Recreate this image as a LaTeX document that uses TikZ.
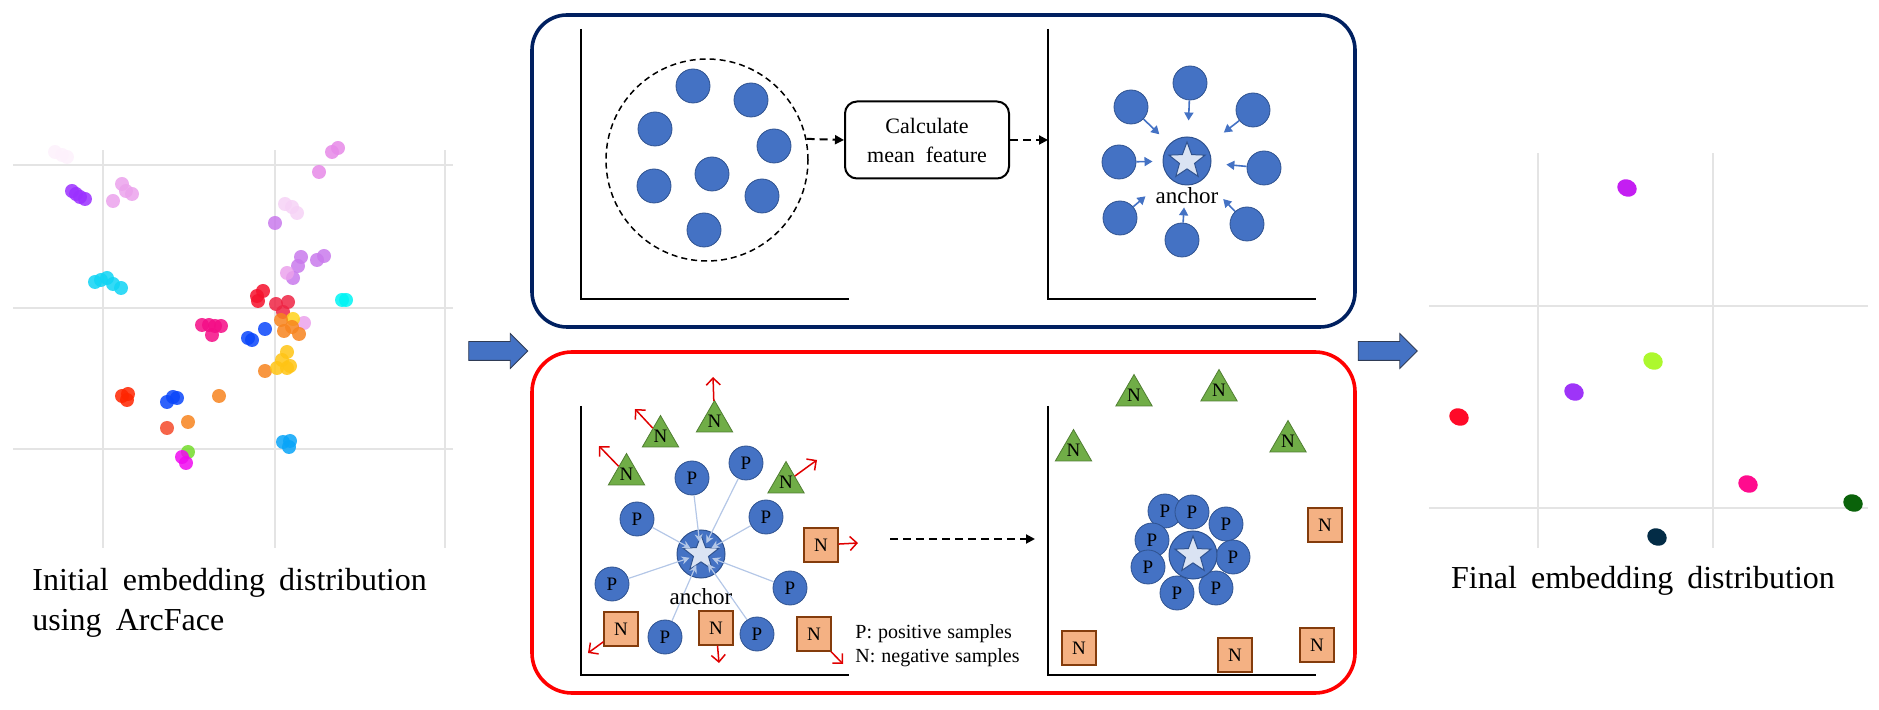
\documentclass[tikz,border=0pt]{standalone}
\usepackage{fontspec}
\setmainfont{Liberation Serif}
\usepackage{tikz}
\usetikzlibrary{positioning,arrows.meta,shapes.geometric,shapes.arrows,calc}
\usepackage{xcolor}
\definecolor{officeblue}{HTML}{4472C4}
\definecolor{dotrim}{HTML}{2F528F}
\definecolor{starwhite}{HTML}{DAE3F3}
\definecolor{framenavy}{HTML}{002060}
\definecolor{framered}{HTML}{FF0000}
\definecolor{leafgreen}{HTML}{70AD47}
\definecolor{leafrim}{HTML}{507E32}
\definecolor{peach}{HTML}{F4B183}
\definecolor{peachrim}{HTML}{843C0C}
\definecolor{pushred}{HTML}{E00000}
\definecolor{linkblue}{HTML}{B4C7E7}
\definecolor{gridgray}{HTML}{E4E4E4}
\definecolor{arrowrim}{HTML}{2F3B55}
\definecolor{embfaint}{HTML}{FDF1FC}
\definecolor{embpurple}{HTML}{9B30FF}
\definecolor{embplum}{HTML}{EBA2EC}
\definecolor{embviolet}{HTML}{E68AE8}
\definecolor{emblilac}{HTML}{F6D2F6}
\definecolor{emborchid}{HTML}{C97AEC}
\definecolor{embturq}{HTML}{10D4F4}
\definecolor{embred}{HTML}{F5102C}
\definecolor{embcrimson}{HTML}{EE2444}
\definecolor{embaqua}{HTML}{00F4F4}
\definecolor{emborange}{HTML}{F7841F}
\definecolor{embyellow}{HTML}{FFD21A}
\definecolor{embrose}{HTML}{F40C86}
\definecolor{embblue}{HTML}{0A46FA}
\definecolor{embgold}{HTML}{FFC414}
\definecolor{embscarlet}{HTML}{FF2400}
\definecolor{embtomato}{HTML}{F44A2A}
\definecolor{emblime}{HTML}{74DC2C}
\definecolor{embmagenta}{HTML}{F00AF0}
\definecolor{embsky}{HTML}{08A4F8}
\definecolor{finviolet}{HTML}{C41EF2}
\definecolor{finlime}{HTML}{ADF82E}
\definecolor{finpurple}{HTML}{9E34F8}
\definecolor{finred}{HTML}{FF0A28}
\definecolor{finpink}{HTML}{FF0C8E}
\definecolor{fingreen}{HTML}{0A620A}
\definecolor{finnavy}{HTML}{032C46}
\newcommand{\wordgap}[1]{\spaceskip=#1\relax}

\begin{document}
\begin{tikzpicture}[
    x=0.5pt, y=-0.5pt,
    panelFrame/.style={rectangle, line width=1.8pt, inner sep=0pt},
    axisLine/.style={draw=black, line width=1pt},
    gridLine/.style={draw=gridgray, line width=0.6pt},
    sampleDot/.style={circle, fill=officeblue, draw=dotrim, line width=0.4pt, minimum size=17pt, inner sep=0pt, font=\fontsize{9.5}{10}\selectfont},
    anchorDot/.style={circle, fill=officeblue, draw=dotrim, line width=0.5pt, minimum size=24pt, inner sep=0pt},
    anchorStar/.style={star, star points=5, star point ratio=2.4, fill=starwhite, draw=dotrim, line width=0.5pt, minimum size=19pt, inner sep=0pt},
    negTri/.style={regular polygon, regular polygon sides=3, fill=leafgreen, draw=leafrim, line width=0.4pt, minimum size=21pt, inner sep=0pt, font=\fontsize{9.5}{10}\selectfont},
    negSq/.style={rectangle, fill=peach, draw=peachrim, line width=0.6pt, minimum size=17pt, inner sep=0pt, font=\fontsize{9.5}{10}\selectfont},
    calcBox/.style={rectangle, rounded corners=6pt, draw=black, line width=1pt, minimum width=82pt, minimum height=38.5pt, align=center, font=\fontsize{11}{14.5}\selectfont\wordgap{0.5em}},
    flowArrow/.style={-{Triangle[length=4.5pt, width=4.5pt]}, line width=1pt, dash pattern=on 4pt off 2.5pt},
    pullArrow/.style={-{Triangle[length=4pt, width=4.5pt]}, draw=officeblue, line width=0.8pt},
    pushArrow/.style={-{Straight Barb[length=3.5pt, width=7pt]}, draw=pushred, line width=0.75pt},
    linkArrow/.style={-{Stealth[length=4pt, width=4pt]}, draw=linkblue, line width=0.6pt},
    blockArrow/.style={single arrow, fill=officeblue, draw=arrowrim, line width=0.4pt, inner xsep=0pt, inner ysep=4.5pt, minimum height=29.5pt, single arrow head extend=4pt},
    caption/.style={font=\fontsize{16}{20}\selectfont\wordgap{0.44em}, inner sep=0pt, align=left},
    anchorLabel/.style={font=\fontsize{11.5}{12}\selectfont, inner sep=1pt}
]
    \useasboundingbox (0, 0) rectangle (1879, 710);

    % Initial embedding (scatter with grid)
    \foreach \gy in {165, 308, 449}
        \draw[gridLine] (13, \gy) -- (453, \gy);
    \foreach \gx in {103, 275, 445}
        \draw[gridLine] (\gx, 150) -- (\gx, 548);
    \foreach \col/\pts in {
        embfaint/{(55,152),(62,155),(67,157)},
        embpurple/{(72,191),(76,194),(80,197),(85,199)},
        embplum/{(122,184),(126,191),(132,194),(113,201)},
        embviolet/{(332,152),(338,148),(319,172)},
        emblilac/{(285,204),(292,207),(297,213)},
        emborchid/{(275,223),(301,257),(298,266),(293,278),(317,260),(324,256)},
        embplum/{(287,273),(304,323)},
        embturq/{(95,282),(101,280),(107,278),(113,284),(121,288)},
        embred/{(257,296),(263,291),(258,301)},
        embcrimson/{(276,304),(288,302),(283,312)},
        embaqua/{(342,300),(346,300)},
        embyellow/{(293,319)},
        emborange/{(281,320),(284,331),(292,327),(299,334),(265,371),(219,396),(188,422)},
        embrose/{(202,325),(209,325),(215,326),(221,326),(212,335)},
        embblue/{(248,338),(252,340),(265,329),(167,402),(173,397),(177,398)},
        embgold/{(287,352),(282,360),(277,368),(287,368),(290,366)},
        embscarlet/{(122,396),(128,394),(127,400)},
        embtomato/{(167,428)},
        emblime/{(188,452)},
        embmagenta/{(182,457),(186,463)},
        embsky/{(283,442),(290,441),(289,447)}}
        \foreach \p in \pts
            \fill[\col, opacity=0.85] \p circle[radius=7];

    \node[caption, anchor=north west] (capInit) at (32, 568) {Initial embedding distribution\\using ArcFace};

    % Block arrows
    \node[blockArrow] (arrowIn) at (493.5, 351) {};
    \node[blockArrow] (arrowOut) at (1383, 351) {};

    % Panel 1: mean feature as anchor
    \node[panelFrame, rounded corners=17.5pt, draw=framenavy, minimum width=411.5pt, minimum height=156pt] (meanPanel) at (943.5, 171) {};
    \coordinate (originA) at (581, 299);
    \coordinate (originB) at (1048, 299);
    \draw[axisLine] (originA) ++(0, -270) |- ++(268, 270);
    \draw[axisLine] (originB) ++(0, -270) |- ++(268, 270);

    \node[circle, draw, line width=0.75pt, dash pattern=on 3pt off 2pt, minimum size=101pt, inner sep=0pt] (cloud) at (707, 160) {};
    \foreach \i/\px/\py in {1/693/86, 2/751/100, 3/655/129, 4/774/146, 5/712/174, 6/654/186, 7/762/196, 8/704/230}
        \node[sampleDot] (cloudDot\i) at (\px, \py) {};

    \node[calcBox] (calc) at (927, 140) {Calculate\\mean feature};
    \draw[flowArrow] (cloud.12) -- (calc.west);
    \draw[flowArrow] (calc.east) -- (calc.east -| originB);

    \node[anchorDot] (ancA) at (1187, 161) {};
    \node[anchorStar] (starA) at (ancA) {};
    \node[anchorLabel, below=0pt of ancA] (labelA) {anchor};
    \foreach \n/\px/\py/\gap in {a/1190/83/8, b/1131/107/7, c/1253/110/11, d/1119/162/5, e/1264/168/7.5, f/1120/218/15, g/1182/240/11, h/1247/224/14} {
        \node[sampleDot] (outer\n) at (\px, \py) {};
        \draw[pullArrow, shorten >=\gap pt] (outer\n) -- (ancA);
    }

    % Panel 2: pull positives, push negatives
    \node[panelFrame, rounded corners=20pt, draw=framered, minimum width=411.5pt, minimum height=170.5pt] (pushPanel) at (943.5, 522.5) {};
    \coordinate (originC) at (581, 675);
    \coordinate (originD) at (1048, 675);
    \draw[axisLine] (originC) ++(0, -269) |- ++(268, 269);
    \draw[axisLine] (originD) ++(0, -269) |- ++(268, 269);

    \node[anchorDot] (ancB) at (701, 554) {};
    \node[anchorStar] (starB) at (ancB) {};
    \foreach \i/\px/\py in {1/692/478, 2/746/463, 3/637/519, 4/766/517, 5/612/584, 6/790/588, 7/665/637, 8/757/634} {
        \node[sampleDot] (posB\i) at (\px, \py) {P};
        \draw[linkArrow, shorten >=6pt] (posB\i) -- (ancB.center);
    }
    \node[anchorLabel, below=4pt of ancB] (labelB) {anchor};

    \foreach \n/\px/\py in {t1/714.5/421.5, t2/660.5/436.5, t3/626.5/474.5, t4/786/482.5}
        \node[negTri] (\n) at (\px, \py) {N};
    \foreach \n/\px/\py in {s1/621/629, s2/716/628, s3/821/545, s4/814/634}
        \node[negSq] (\n) at (\px, \py) {N};
    \foreach \n/\px/\py in {t1/713/377, t2/635/409, t3/599/446, t4/817/460, s1/588/653, s2/719/663, s3/858/543, s4/843/664} {
        \coordinate (\n-out) at (\px, \py);
        \draw[pushArrow] (\n) -- (\n-out);
    }

    \node[anchor=north west, inner sep=0pt, align=left, font=\fontsize{10}{12}\selectfont\wordgap{0.3em}] (legend) at (855, 624) {P: positive samples\\N: negative samples};

    \coordinate (gapL) at (890, 539);
    \coordinate (gapR) at (1035, 539);
    \draw[flowArrow] (gapL) -- (gapR);

    \foreach \n/\px/\py in {r1/1134/395.5, r2/1219/390.5, r3/1073.5/450.5, r4/1288/441.5}
        \node[negTri] (\n) at (\px, \py) {N};
    \foreach \n/\px/\py in {q1/1325/525, q2/1079/648, q3/1235/655, q4/1317/645}
        \node[negSq] (\n) at (\px, \py) {N};
    \foreach \i/\px/\py in {1/1165/511, 2/1192/512, 3/1226/524, 4/1152/540, 5/1233/557, 6/1148/567, 7/1216/588, 8/1177/593}
        \node[sampleDot] (posC\i) at (\px, \py) {P};
    \node[anchorDot] (ancC) at (1193, 555) {};
    \node[anchorStar] (starC) at (ancC) {};

    % Final embedding (scatter with grid)
    \foreach \gy in {306, 508}
        \draw[gridLine] (1429, \gy) -- (1868, \gy);
    \foreach \gx in {1538, 1713}
        \draw[gridLine] (\gx, 153) -- (\gx, 548);
    \foreach \col/\px/\py in {finviolet/1627/188, finlime/1653/361, finpurple/1574/392, finred/1459/417, finpink/1748/484, fingreen/1853/503, finnavy/1657/537}
        \fill[\col, shift={(\px, \py)}, rotate=-25] (0, 0) ellipse[x radius=10, y radius=8.5];

    \node[caption, anchor=north] (capFinal) at (1643, 566) {Final embedding distribution};

\end{tikzpicture}
\end{document}
